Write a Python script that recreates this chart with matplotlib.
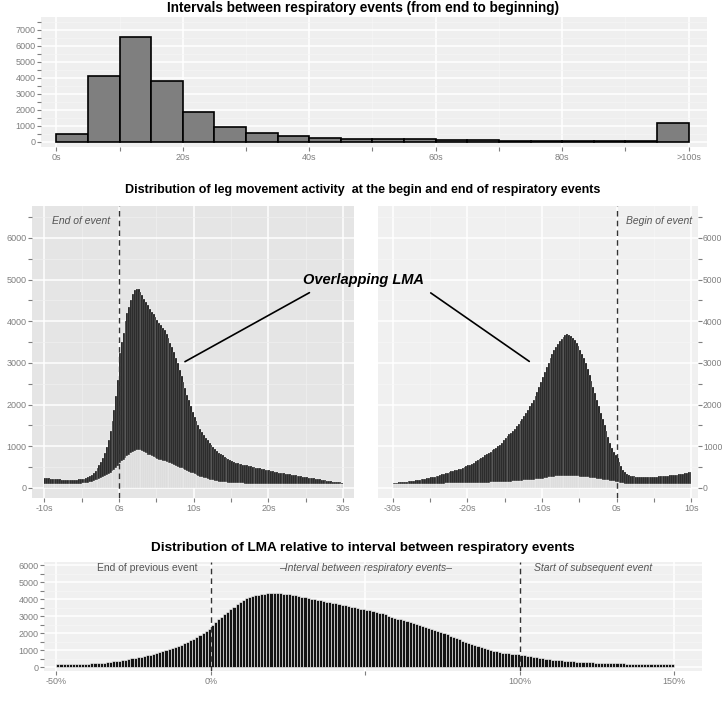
import numpy as np
import matplotlib
matplotlib.use("Agg")
import matplotlib.pyplot as plt
from matplotlib.ticker import MultipleLocator, FixedLocator

# --- top: intervals between respiratory events (5 s bins, last bin = ">100s")
int_bin = 5
int_counts = [520, 4150, 6575, 3820, 1880, 960, 560, 400, 270, 210,
              180, 170, 125, 120, 85, 80, 85, 80, 60, 1190]
int_ticks = [0, 20, 40, 60, 80, 100]
int_labels = ["0s", "20s", "40s", "60s", "80s", ">100s"]

# --- middle left: LMA around end of event (0.25 s bins from -10 s)
end_start, end_step = -10, 0.25
end_total = [240, 235, 230, 225, 220, 215, 210, 205, 205, 200, 200, 200, 200, 200, 200, 200,
             200, 200, 205, 210, 215, 225, 240, 260, 290, 320, 360, 410, 470, 540, 620, 720,
             850, 990, 1160, 1360, 1600, 1880, 2200, 2580, 3250, 3500, 3720, 4000, 4200, 4350, 4520, 4650,
             4750, 4770, 4780, 4700, 4620, 4540, 4460, 4380, 4300, 4230, 4170, 4100, 4040, 3970, 3900, 3830,
             3780, 3690, 3600, 3490, 3380, 3260, 3130, 2990, 2840, 2690, 2540, 2390, 2240, 2100, 1960, 1830,
             1710, 1600, 1500, 1420, 1340, 1270, 1200, 1140, 1080, 1030, 980, 930, 890, 850, 810, 780,
             750, 720, 690, 665, 640, 620, 605, 590, 580, 570, 560, 550, 540, 530, 520, 510,
             500, 490, 480, 470, 460, 450, 440, 430, 420, 410, 400, 390, 380, 370, 360, 355,
             350, 345, 335, 330, 320, 310, 300, 295, 285, 280, 270, 265, 255, 250, 240, 235,
             230, 220, 215, 205, 200, 190, 185, 175, 170, 165, 155, 150, 145, 140, 135, 130]
end_single = [105, 105, 100, 100, 100, 100, 100, 100, 100, 100, 100, 100, 100, 100, 100, 100,
              100, 100, 105, 105, 110, 115, 120, 130, 140, 155, 170, 185, 200, 220, 240, 260,
              285, 310, 340, 370, 400, 440, 480, 530, 600, 640, 680, 720, 760, 800, 830, 860,
              880, 900, 910, 905, 890, 860, 830, 800, 780, 760, 740, 720, 700, 680, 660, 650,
              640, 625, 610, 590, 570, 550, 530, 510, 490, 470, 450, 430, 410, 390, 370, 350,
              330, 310, 290, 275, 260, 245, 230, 215, 200, 190, 180, 170, 160, 155, 150, 145,
              140, 135, 130, 125, 120, 120, 115, 115, 110, 110, 110, 105, 105, 105, 100, 100,
              100, 100, 100, 100, 100, 100, 100, 100, 100, 100, 100, 100, 100, 100, 100, 100,
              100, 100, 100, 100, 100, 95, 95, 95, 95, 95, 95, 95, 95, 95, 95, 95,
              95, 95, 95, 95, 95, 95, 90, 90, 90, 90, 90, 90, 90, 90, 90, 90]

# --- middle right: LMA around begin of event (0.25 s bins from -30 s)
beg_start, beg_step = -30, 0.25
beg_total = [120, 125, 130, 135, 140, 145, 150, 155, 160, 165, 170, 175, 180, 190, 200, 210,
             216, 225, 235, 245, 255, 265, 275, 285, 296, 310, 325, 340, 355, 370, 385, 400,
             410, 420, 435, 450, 465, 480, 500, 520, 540, 560, 585, 610, 640, 670, 700, 720,
             750, 780, 810, 840, 870, 900, 930, 960, 1000, 1040, 1090, 1140, 1190, 1240, 1290, 1330,
             1370, 1420, 1480, 1540, 1600, 1660, 1730, 1800, 1880, 1960, 2040, 2120, 2210, 2310, 2420, 2540,
             2660, 2780, 2900, 3010, 3110, 3210, 3300, 3380, 3450, 3520, 3580, 3630, 3670, 3690, 3680, 3650,
             3600, 3540, 3470, 3400, 3320, 3220, 3110, 2990, 2860, 2720, 2570, 2420, 2280, 2120, 1960, 1800,
             1650, 1500, 1360, 1220, 1080, 960, 860, 780, 720, 620, 520, 440, 380, 340, 310, 295,
             285, 280, 275, 275, 270, 270, 270, 270, 270, 270, 270, 275, 275, 275, 280, 280,
             285, 285, 290, 295, 300, 305, 310, 315, 320, 330, 340, 345, 355, 365, 375, 385]
beg_single = [90, 90, 90, 90, 95, 95, 95, 95, 95, 95, 100, 100, 100, 100, 100, 100,
              100, 100, 100, 100, 100, 100, 105, 105, 105, 105, 105, 105, 110, 110, 110, 110,
              110, 110, 110, 115, 115, 115, 115, 120, 120, 120, 120, 120, 125, 125, 125, 125,
              125, 130, 130, 130, 135, 135, 135, 140, 140, 145, 145, 150, 150, 150, 155, 155,
              160, 160, 165, 165, 170, 175, 180, 180, 185, 190, 195, 200, 205, 210, 215, 220,
              225, 235, 245, 255, 265, 270, 275, 280, 285, 290, 290, 290, 290, 290, 290, 290,
              290, 285, 285, 280, 275, 270, 265, 260, 255, 250, 245, 240, 230, 225, 215, 210,
              200, 195, 185, 180, 175, 170, 160, 155, 150, 130, 120, 110, 105, 100, 100, 100,
              100, 100, 100, 100, 100, 100, 100, 100, 100, 100, 100, 100, 100, 100, 100, 100,
              100, 100, 100, 100, 100, 100, 100, 100, 100, 100, 100, 100, 100, 100, 100, 100]

# --- bottom: LMA relative to interval (1 % bins from -50 %)
rel_start, rel_step = -50, 1
rel_counts = [150, 155, 160, 165, 170, 175, 180, 185, 190, 195,
              200, 210, 220, 235, 250, 265, 285, 305, 330, 355,
              380, 410, 440, 470, 505, 540, 575, 610, 650, 690,
              720, 770, 820, 870, 930, 990, 1050, 1110, 1170, 1240,
              1300, 1390, 1480, 1570, 1660, 1760, 1870, 1990, 2110, 2240,
              2500, 2650, 2800, 2950, 3100, 3260, 3410, 3550, 3690, 3820,
              3950, 4040, 4120, 4180, 4220, 4260, 4290, 4320, 4340, 4350,
              4350, 4340, 4330, 4310, 4290, 4270, 4240, 4210, 4180, 4140,
              4100, 4070, 4030, 4000, 3960, 3920, 3890, 3850, 3810, 3780,
              3740, 3700, 3660, 3620, 3580, 3540, 3510, 3480, 3440, 3410,
              3380, 3340, 3300, 3250, 3200, 3150, 3090, 3030, 2970, 2910,
              2850, 2800, 2740, 2680, 2630, 2570, 2520, 2470, 2410, 2360,
              2310, 2250, 2190, 2130, 2070, 2000, 1930, 1850, 1770, 1700,
              1620, 1560, 1500, 1430, 1370, 1310, 1250, 1180, 1120, 1060,
              1000, 960, 920, 880, 850, 820, 800, 780, 760, 740,
              720, 690, 660, 630, 600, 570, 540, 510, 480, 455,
              430, 415, 400, 385, 370, 355, 340, 330, 320, 310,
              300, 290, 280, 270, 260, 250, 245, 240, 235, 230,
              225, 220, 215, 210, 205, 205, 200, 200, 195, 195,
              190, 185, 180, 175, 170, 165, 160, 160, 155, 150]

GREY_TXT = "#7f7f7f"
plt.rcParams["font.family"] = ["Liberation Sans", "DejaVu Sans"]


def gg_style(ax, bg, minor_col):
    ax.set_facecolor(bg)
    for s in ax.spines.values():
        s.set_visible(False)
    ax.grid(which="major", color="white", lw=1.1)
    ax.grid(which="minor", color=minor_col, lw=0.5)
    ax.set_axisbelow(True)
    ax.tick_params(which="both", colors=GREY_TXT, labelcolor=GREY_TXT,
                   labelsize=6.5, length=3, width=0.8, pad=1)


fig = plt.figure(figsize=(7.26, 7.10), dpi=100)

# ---------------- top histogram
ax1 = fig.add_axes([0.0567, 0.793, 0.917, 0.1837])
gg_style(ax1, "#efefef", "#f6f6f6")
x1 = np.arange(len(int_counts)) * int_bin
ax1.bar(x1, int_counts, width=int_bin, align="edge", color="#7f7f7f",
        edgecolor="black", lw=1.2)
ax1.set_xlim(-2.4, 102.9)
ax1.set_ylim(-313, 7835)
ax1.xaxis.set_major_locator(FixedLocator(int_ticks))
ax1.set_xticklabels(int_labels)
ax1.xaxis.set_minor_locator(MultipleLocator(10))
ax1.yaxis.set_major_locator(MultipleLocator(1000))
ax1.yaxis.set_minor_locator(MultipleLocator(500))
fig.text(0.5, 1 - 8 / 710, "Intervals between respiratory events (from end to beginning)",
         ha="center", va="center", fontsize=9.8, fontweight="bold")

# ---------------- middle panels
def lma_panel(ax, start, step, total, single, bg, minor_col):
    gg_style(ax, bg, minor_col)
    x = start + step * (np.arange(len(total)) + 0.5)
    ax.bar(x, total, width=step, color="#141414", edgecolor="white", lw=0.15)
    ax.bar(x, single, width=step, color="#d8d8d8", edgecolor="white", lw=0.2)
    ax.axvline(0, color="#333333", ls=(0, (4, 3)), lw=1.0)
    ax.set_ylim(-240, 6760)
    ax.xaxis.set_major_locator(MultipleLocator(10))
    ax.xaxis.set_minor_locator(MultipleLocator(5))
    ax.xaxis.set_major_formatter(lambda v, p: "%ds" % v)
    ax.yaxis.set_major_locator(MultipleLocator(1000))
    ax.yaxis.set_minor_locator(MultipleLocator(500))


ax2 = fig.add_axes([0.0445, 0.2986, 0.4427, 0.4108])
lma_panel(ax2, end_start, end_step, end_total, end_single, "#e5e5e5", "#f0f0f0")
ax2.set_xlim(-11.6, 31.4)
ax2.text(-1.2, 6400, "End of event", ha="right", va="center", fontsize=7.5,
         style="italic", color="#555555")

ax3 = fig.add_axes([0.5212, 0.2986, 0.4405, 0.4108])
lma_panel(ax3, beg_start, beg_step, beg_total, beg_single, "#f0f0f0", "#f7f7f7")
ax3.set_xlim(-31.9, 10.9)
ax3.yaxis.tick_right()
ax3.tick_params(axis="y", which="both", pad=0.5, labelsize=6.2)
ax3.text(1.3, 6400, "Begin of event", ha="left", va="center", fontsize=7.5,
         style="italic", color="#555555")

fig.text(0.5, 1 - 190 / 710,
         "Distribution of leg movement activity  at the begin and end of respiratory events",
         ha="center", va="center", fontsize=9, fontweight="bold")

fig.text(364 / 726, 1 - 280 / 710, "Overlapping LMA", ha="center", va="center",
         fontsize=10.5, fontweight="bold", style="italic")
ax2.annotate("", xy=(8.5, 3000), xytext=(25.8, 4720),
             arrowprops=dict(arrowstyle="-", color="black", lw=1.2), annotation_clip=False)
ax3.annotate("", xy=(-11.4, 3000), xytext=(-25.2, 4720),
             arrowprops=dict(arrowstyle="-", color="black", lw=1.2), annotation_clip=False)

# ---------------- bottom panel
ax4 = fig.add_axes([0.0606, 0.055, 0.9063, 0.154])
gg_style(ax4, "#f0f0f0", "#f7f7f7")
x4 = rel_start + rel_step * (np.arange(len(rel_counts)) + 0.5)
ax4.bar(x4, rel_counts, width=rel_step, color="#141414", edgecolor="white", lw=0.4)
ax4.axvline(0, color="#333333", ls=(0, (4, 3)), lw=1.0)
ax4.axvline(100, color="#333333", ls=(0, (4, 3)), lw=1.0)
ax4.set_xlim(-54, 159)
ax4.set_ylim(-230, 6200)
ax4.xaxis.set_major_locator(FixedLocator([-50, 0, 100, 150]))
ax4.xaxis.set_major_formatter(lambda v, p: "%d%%" % v)
ax4.xaxis.set_minor_locator(FixedLocator([50]))
ax4.grid(which="minor", axis="x", color="white", lw=1.1)
ax4.yaxis.set_major_locator(MultipleLocator(1000))
ax4.yaxis.set_minor_locator(MultipleLocator(500))
ax4.text(-20.7, 5800, "End of previous event", ha="center", va="center",
         fontsize=7.5, color="#555555")
ax4.text(50, 5800, "\u2013Interval between respiratory events\u2013", ha="center",
         va="center", fontsize=7.5, style="italic", color="#555555")
ax4.text(123.7, 5800, "Start of subsequent event", ha="center", va="center",
         fontsize=7.5, style="italic", color="#555555")
fig.text(0.5, 1 - 548 / 710,
         "Distribution of LMA relative to interval between respiratory events",
         ha="center", va="center", fontsize=9.7, fontweight="bold")

fig.savefig("out.png", dpi=100)
